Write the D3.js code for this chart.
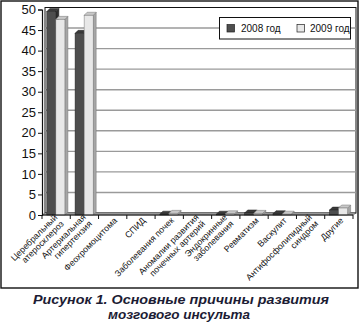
<!DOCTYPE html>
<html>
<head>
<meta charset="utf-8">
<script src="https://cdn.jsdelivr.net/npm/d3@7/dist/d3.min.js"></script>
<style>
  html, body { margin: 0; padding: 0; background: #fff; }
  svg text { font-family: "Liberation Sans", Arial, sans-serif; }
</style>
</head>
<body>
<svg id="chart" width="360" height="323"></svg>
<script>
// Causes of stroke, share of cases (%), 2008 vs 2009
const categories = [
  ["Церебральный", "атеросклероз"],
  ["Артериальная", "гипертензия"],
  ["Феохромоцитома"],
  ["СПИД"],
  ["Заболевания почек"],
  ["Аномалии развития", "почечных артерий"],
  ["Эндокринные", "заболевания"],
  ["Ревматизм"],
  ["Васкулит"],
  ["Антифосфолипидный", "синдром"],
  ["Другие"]
];
const seriesNames = ["2008 год", "2009 год"];
const values2008 = [49.5, 44.2, 0, 0, 0.2, 0, 0.2, 0.5, 0.3, 0, 1.2];
const values2009 = [47.6, 48.6, 0, 0, 0.4, 0, 0.3, 0.4, 0.2, 0, 1.7];
const yTicks = [0, 5, 10, 15, 20, 25, 30, 35, 40, 45, 50];

const svg = d3.select("#chart");
const plotL = 42, plotR = 353, plotT = 9.5, plotB = 215;
const dx = 3, dy = -2;         // depth of the back wall
const bdx = 3, bdy = -3;       // depth of each bar

const x0 = d3.scaleBand().domain(d3.range(categories.length)).range([plotL, plotR]);
const x1 = d3.scaleBand().domain([0, 1])
  .range([x0.bandwidth() * 0.17, x0.bandwidth() * 0.81]);
const y = d3.scaleLinear().domain([0, 50]).range([plotB, plotT]);

// outer frame
svg.append("rect").attr("x", 1).attr("y", 1).attr("width", 357).attr("height", 287)
  .attr("fill", "none").attr("stroke", "#111").attr("stroke-width", 1.4);

// back wall
svg.append("rect")
  .attr("x", plotL + dx).attr("y", y(50) + dy)
  .attr("width", plotR - plotL).attr("height", plotB - y(50))
  .attr("fill", "#fff").attr("stroke", "#111").attr("stroke-width", 1);

// gridlines on the back wall
svg.append("g").selectAll("line").data(yTicks.filter(t => t > 0 && t < 50)).join("line")
  .attr("x1", plotL + dx).attr("x2", plotR + dx)
  .attr("y1", d => y(d) + dy).attr("y2", d => y(d) + dy)
  .attr("stroke", "#9a9a9a").attr("stroke-width", 1.4);

// floor
svg.append("path")
  .attr("d", `M${plotL},${plotB} L${plotR},${plotB} L${plotR + dx},${plotB + dy} L${plotL + dx},${plotB + dy} Z`)
  .attr("fill", "#bdbdbd").attr("stroke", "#444").attr("stroke-width", 0.6);

// bars
const styles = [
  { front: "#4e4e4e", top: "#3a3a3a", side: "#2e2e2e", stroke: "#222" },
  { front: "#e8e8e8", top: "#c8c8c8", side: "#a6a6a6", stroke: "#777" }
];
const rows = categories.map((c, i) => [values2008[i], values2009[i]]);
const bars = svg.append("g");
rows.forEach((vals, i) => {
  vals.forEach((v, s) => {
    if (v <= 0) return;
    const xa = x0(i) + x1(s), w = x1.bandwidth(), ya = y(v), yb = y(0);
    const st = styles[s];
    const g = bars.append("g");
    g.append("path") // side
      .attr("d", `M${xa + w},${yb} L${xa + w + bdx},${yb + bdy} L${xa + w + bdx},${ya + bdy} L${xa + w},${ya} Z`)
      .attr("fill", st.side).attr("stroke", st.stroke).attr("stroke-width", 0.5);
    g.append("path") // top
      .attr("d", `M${xa},${ya} L${xa + bdx},${ya + bdy} L${xa + w + bdx},${ya + bdy} L${xa + w},${ya} Z`)
      .attr("fill", st.top).attr("stroke", st.stroke).attr("stroke-width", 0.5);
    g.append("rect") // front
      .attr("x", xa).attr("y", ya).attr("width", w).attr("height", yb - ya)
      .attr("fill", st.front).attr("stroke", st.stroke).attr("stroke-width", 0.5);
  });
});

// y axis
const yAxis = svg.append("g").attr("transform", `translate(${plotL},0)`)
  .call(d3.axisLeft(y).tickValues(yTicks).tickSize(4).tickPadding(2));
yAxis.select(".domain").attr("stroke", "#111").attr("stroke-width", 1.2);
yAxis.selectAll(".tick line").attr("stroke", "#111").attr("stroke-width", 1);
yAxis.selectAll(".tick text").attr("font-size", 13).attr("fill", "#111")
  .attr("font-family", "Liberation Sans, Arial, sans-serif");

// x axis line with category boundary ticks
svg.append("line").attr("x1", plotL).attr("x2", plotR).attr("y1", plotB).attr("y2", plotB)
  .attr("stroke", "#111").attr("stroke-width", 1.2);
const bounds = d3.range(categories.length + 1).map(i => i < categories.length ? x0(i) : plotR);
svg.append("g").selectAll("line").data(bounds).join("line")
  .attr("x1", d => d).attr("x2", d => d).attr("y1", plotB).attr("y2", plotB + 4)
  .attr("stroke", "#111").attr("stroke-width", 1);

// rotated category labels
const labels = svg.append("g");
categories.forEach((lines, i) => {
  const cx = x0(i) + x0.bandwidth() / 2 + 3;
  const t = labels.append("text")
    .attr("transform", `translate(${cx},219) rotate(-45)`)
    .attr("text-anchor", "end").attr("font-size", 8.8).attr("fill", "#111");
  const n = lines.length;
  lines.forEach((ln, k) => {
    t.append("tspan").attr("x", 0)
      .attr("y", (k - (n - 1) / 2) * 9 + 3)
      .text(ln);
  });
});

// legend
const lg = svg.append("g");
lg.append("rect").attr("x", 219.5).attr("y", 17.5).attr("width", 131).attr("height", 21.5)
  .attr("fill", "#fff").attr("stroke", "#111").attr("stroke-width", 1);
const legendX = [227, 297];
const legendT = [241, 310];
seriesNames.forEach((name, s) => {
  lg.append("rect").attr("x", legendX[s]).attr("y", 24.5).attr("width", 7.5).attr("height", 7.5)
    .attr("fill", styles[s].front).attr("stroke", "#222").attr("stroke-width", 0.7);
  lg.append("text").attr("x", legendT[s]).attr("y", 32).attr("font-size", 10)
    .attr("fill", "#111").text(name);
});

// caption
const cap = svg.append("g").attr("font-weight", "bold").attr("font-style", "italic")
  .attr("fill", "#1c1c34").attr("font-size", 12.5).attr("text-anchor", "middle");
cap.append("text").attr("x", 181).attr("y", 304)
  .attr("textLength", 296).attr("lengthAdjust", "spacingAndGlyphs")
  .text("Рисунок 1. Основные причины развития");
cap.append("text").attr("x", 179).attr("y", 319)
  .attr("textLength", 142).attr("lengthAdjust", "spacingAndGlyphs")
  .text("мозгового инсульта");
</script>
</body>
</html>
